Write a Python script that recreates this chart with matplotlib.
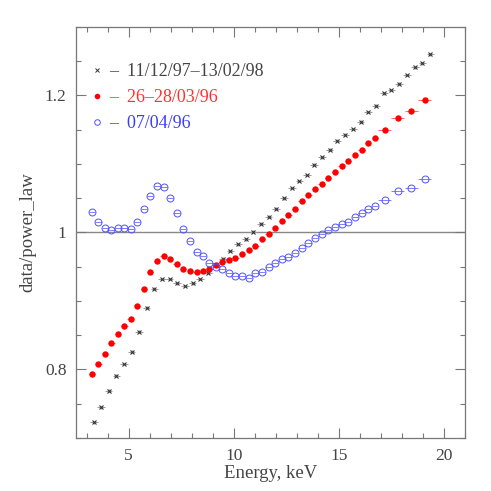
import matplotlib
matplotlib.use('Agg')
import matplotlib.pyplot as plt
from matplotlib.lines import Line2D
from matplotlib.ticker import MultipleLocator

# black: 11/12/97-13/02/98
energyBlack = [3.36, 3.69, 4.05, 4.42, 4.78, 5.14, 5.49, 5.85, 6.22, 6.59, 6.95, 7.31, 7.68,
               8.04, 8.40, 8.77, 9.13, 9.49, 9.84, 10.20, 10.57, 10.93, 11.30, 11.66, 12.02,
               12.39, 12.76, 13.12, 13.48, 13.83, 14.19, 14.56, 14.92, 15.30, 15.66, 16.03,
               16.39, 16.76, 17.14, 17.50, 17.86, 18.23, 18.61, 18.97, 19.35]
ratioBlack = [0.723, 0.745, 0.769, 0.791, 0.808, 0.826, 0.855, 0.890, 0.918, 0.932, 0.932,
              0.926, 0.922, 0.926, 0.932, 0.941, 0.952, 0.962, 0.973, 0.983, 0.990, 1.001,
              1.013, 1.023, 1.035, 1.050, 1.065, 1.075, 1.084, 1.099, 1.110, 1.121, 1.134,
              1.143, 1.151, 1.162, 1.176, 1.185, 1.203, 1.208, 1.217, 1.230, 1.241, 1.247, 1.260]

# red and blue share the same energy bins
energyBins = [3.26, 3.56, 3.86, 4.18, 4.48, 4.80, 5.09, 5.41, 5.73, 6.03, 6.35, 6.66, 6.96,
              7.28, 7.60, 7.91, 8.23, 8.53, 8.84, 9.15, 9.46, 9.78, 10.08, 10.40, 10.71,
              11.03, 11.35, 11.66, 11.97, 12.28, 12.60, 12.91, 13.23, 13.55, 13.87, 14.18,
              14.50, 14.81, 15.13, 15.44, 15.76, 16.08, 16.39, 16.71, 17.18, 17.81, 18.45, 19.08]
binHalfWidth = [0.15] * 44 + [0.31, 0.31, 0.31, 0.31]

# red: 26-28/03/96
ratioRed = [0.793, 0.808, 0.823, 0.838, 0.852, 0.863, 0.873, 0.893, 0.918, 0.942, 0.959,
            0.965, 0.962, 0.954, 0.947, 0.944, 0.943, 0.944, 0.947, 0.953, 0.957, 0.960,
            0.963, 0.968, 0.974, 0.981, 0.990, 0.998, 1.006, 1.017, 1.026, 1.035, 1.046,
            1.055, 1.063, 1.071, 1.080, 1.088, 1.097, 1.104, 1.113, 1.120, 1.130, 1.138,
            1.150, 1.167, 1.178, 1.193]

# blue: 07/04/96
ratioBlue = [1.030, 1.016, 1.006, 1.004, 1.006, 1.007, 1.005, 1.016, 1.035, 1.054, 1.068,
             1.067, 1.051, 1.028, 1.005, 0.987, 0.971, 0.965, 0.956, 0.949, 0.946, 0.941,
             0.936, 0.936, 0.934, 0.941, 0.943, 0.950, 0.955, 0.961, 0.964, 0.970, 0.978,
             0.985, 0.992, 0.998, 1.003, 1.008, 1.013, 1.015, 1.023, 1.029, 1.035, 1.039,
             1.047, 1.061, 1.065, 1.078]

legendLabels = ['\u2013  11/12/97\u201313/02/98', '\u2013  26\u201328/03/96', '\u2013  07/04/96']

cBlack = '#333333'
cRed = '#ff0000'
cBlue = '#5050ff'
cAxis = '#777777'
cText = '#444444'

plt.rcParams['font.family'] = ['Liberation Serif', 'DejaVu Serif']
plt.rcParams['font.size'] = 12.5

fig = plt.figure(figsize=(4.91, 4.91), dpi=100)
ax = fig.add_axes([0.155, 0.108, 0.792, 0.837])

ax.axhline(1.0, color='#888888', lw=1.0, zorder=1)

ax.errorbar(energyBlack, ratioBlack, xerr=0.18, yerr=0.002, fmt='x', ms=3, mew=0.8,
            color=cBlack, ecolor='#999999', elinewidth=0.7, capsize=0, zorder=3)
ax.errorbar(energyBins, ratioRed, xerr=binHalfWidth, fmt='o', ms=4.6, mew=0,
            color=cRed, ecolor='#ff6666', elinewidth=0.7, capsize=0, zorder=3)
ax.errorbar(energyBins, ratioBlue, xerr=binHalfWidth, fmt='o', ms=5, mfc='none', mew=0.7,
            color=cBlue, ecolor='#8080ff', elinewidth=0.7, capsize=0, zorder=3)

ax.set_xlim(2.5, 21.0)
ax.set_ylim(0.7, 1.3)
ax.xaxis.set_major_locator(MultipleLocator(5))
ax.xaxis.set_minor_locator(MultipleLocator(1))
ax.yaxis.set_major_locator(MultipleLocator(0.2))
ax.yaxis.set_minor_locator(MultipleLocator(0.05))
ax.set_yticks([0.8, 1.0, 1.2])
ax.set_yticklabels(['0.8', '1', '1.2'])
ax.tick_params(which='both', direction='in', top=True, right=True, color=cAxis,
               labelcolor=cText, width=0.8)
ax.tick_params(which='major', length=7, pad=7)
ax.tick_params(which='minor', length=3.5)
for s in ax.spines.values():
  s.set_color(cAxis)
  s.set_linewidth(0.9)

ax.set_xlabel('Energy, keV', color=cText, labelpad=1, fontsize=13.5)
ax.set_ylabel('data/power_law', color=cText, labelpad=6, fontsize=13.5)

handles = [Line2D([], [], ls='none', marker='x', ms=3, mew=0.7, color=cBlack),
           Line2D([], [], ls='none', marker='o', ms=4, mew=0, color=cRed),
           Line2D([], [], ls='none', marker='o', ms=4, mfc='none', mew=0.7, color=cBlue)]
leg = ax.legend(handles, legendLabels, loc='upper left', frameon=False,
                handlelength=0.6, handletextpad=0.4, labelspacing=0.5,
                bbox_to_anchor=(0.02, 0.93), borderaxespad=0, fontsize=13)
for t, c in zip(leg.get_texts(), [cText, '#ff3030', '#3c3cff']):
  t.set_color(c)

fig.savefig('out.png', dpi=100)
